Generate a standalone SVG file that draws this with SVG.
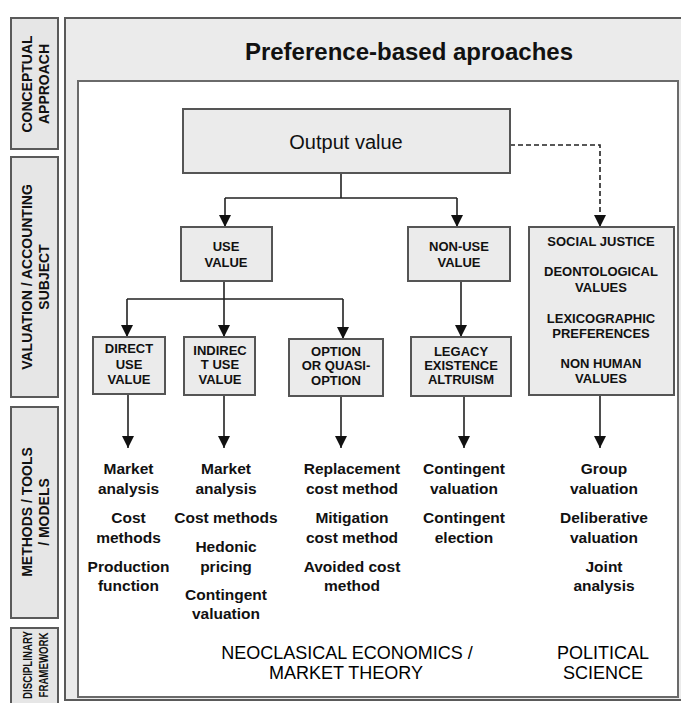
<svg xmlns="http://www.w3.org/2000/svg" width="681" height="703" viewBox="0 0 681 703">
<style>
.sb{fill:#e6e6e6;stroke:#5a5a5a;stroke-width:2}
.frame{fill:#ebebeb;stroke:#5a5a5a;stroke-width:2}
.inner{fill:#ffffff;stroke:#6a6a6a;stroke-width:2}
.box{fill:#ebebeb;stroke:#555;stroke-width:2}
text{font-family:'Liberation Sans',Arial,sans-serif;fill:#111;text-anchor:middle}
.side{font-size:14px;font-weight:bold}
.title{font-size:24px;font-weight:bold}
.ov{font-size:20px}
.lbl{font-size:13px;font-weight:bold}
.m{font-size:15.5px;font-weight:bold}
.fw{font-size:18px;fill:#000}
.conn{stroke:#222;stroke-width:1.6;fill:none}
.dash{stroke-dasharray:5 3}
</style>
<defs>
<marker id="ah" markerUnits="userSpaceOnUse" markerWidth="12" markerHeight="12" refX="12" refY="6" orient="auto">
<path d="M0,0 L12,6 L0,12 z" fill="#111"/>
</marker>
</defs>
<rect width="681" height="703" fill="#fff"/>

<g id="side-conceptual">
<rect class="sb" x="11" y="18" width="47" height="131"/>
<text class="side" transform="translate(32,84) rotate(-90)">CONCEPTUAL</text>
<text class="side" transform="translate(49,84) rotate(-90)">APPROACH</text>
</g>
<g id="side-valuation">
<rect class="sb" x="11" y="157" width="47" height="240"/>
<text class="side" transform="translate(32,277) rotate(-90)">VALUATION / ACCOUNTING</text>
<text class="side" transform="translate(49,277) rotate(-90)">SUBJECT</text>
</g>
<g id="side-methods">
<rect class="sb" x="11" y="407" width="47" height="211"/>
<text class="side" transform="translate(32,512) rotate(-90)">METHODS / TOOLS</text>
<text class="side" transform="translate(49,512) rotate(-90)">/ MODELS</text>
</g>
<g id="side-disciplinary">
<rect class="sb" x="11" y="628" width="47" height="85"/>
<text class="side" transform="translate(32,665) rotate(-90)" textLength="68" lengthAdjust="spacingAndGlyphs" style="font-size:13px">DISCIPLINARY</text>
<text class="side" transform="translate(48,665) rotate(-90)" textLength="65" lengthAdjust="spacingAndGlyphs" style="font-size:13px">FRAMEWORK</text>
</g>

<g id="frame">
<rect class="frame" x="65" y="18" width="630" height="682"/>
<rect class="inner" x="78" y="81" width="600" height="616"/>
<text class="title" x="409" y="60">Preference-based aproaches</text>
</g>

<g id="connectors">
<path class="conn" d="M341,173 V198 M225,198 H457"/>
<path class="conn" d="M225,198 V227" marker-end="url(#ah)"/>
<path class="conn" d="M457,198 V227" marker-end="url(#ah)"/>
<path class="conn dash" d="M510,145 H600 V227" marker-end="url(#ah)"/>
<path class="conn" d="M224,281 V299 M127,299 H343"/>
<path class="conn" d="M127,299 V337" marker-end="url(#ah)"/>
<path class="conn" d="M224,299 V337" marker-end="url(#ah)"/>
<path class="conn" d="M343,299 V339" marker-end="url(#ah)"/>
<path class="conn" d="M461,281 V337" marker-end="url(#ah)"/>
<path class="conn" d="M128,394 V448" marker-end="url(#ah)"/>
<path class="conn" d="M224,395 V448" marker-end="url(#ah)"/>
<path class="conn" d="M341,396 V448" marker-end="url(#ah)"/>
<path class="conn" d="M464,396 V448" marker-end="url(#ah)"/>
<path class="conn" d="M600,395 V448" marker-end="url(#ah)"/>
</g>

<g id="output-value">
<rect class="box" x="183" y="109" width="327" height="64"/>
<text class="ov" x="346" y="149">Output value</text>
</g>
<g id="use-value">
<rect class="box" x="181" y="227" width="91" height="54"/>
<text class="lbl" x="226" y="250.5">USE</text>
<text class="lbl" x="226" y="266.5">VALUE</text>
</g>
<g id="non-use-value">
<rect class="box" x="408" y="227" width="102" height="54"/>
<text class="lbl" x="459" y="250.5">NON-USE</text>
<text class="lbl" x="459" y="266.5">VALUE</text>
</g>
<g id="social-justice">
<rect class="box" x="529" y="227" width="145" height="168"/>
<text class="lbl" x="601" y="245.5">SOCIAL JUSTICE</text>
<text class="lbl" x="601" y="275.5">DEONTOLOGICAL</text>
<text class="lbl" x="601" y="291.5">VALUES</text>
<text class="lbl" x="601" y="322.5">LEXICOGRAPHIC</text>
<text class="lbl" x="601" y="337.5">PREFERENCES</text>
<text class="lbl" x="601" y="367.5">NON HUMAN</text>
<text class="lbl" x="601" y="382.5">VALUES</text>
</g>
<g id="direct-use-value">
<rect class="box" x="93" y="337" width="72" height="57"/>
<text class="lbl" x="129" y="352.5">DIRECT</text>
<text class="lbl" x="129" y="368.5">USE</text>
<text class="lbl" x="129" y="383.5">VALUE</text>
</g>
<g id="indirect-use-value">
<rect class="box" x="184" y="337" width="71" height="58"/>
<text class="lbl" x="220" y="354.5">INDIREC</text>
<text class="lbl" x="220" y="368.5">T USE</text>
<text class="lbl" x="220" y="383.5">VALUE</text>
</g>
<g id="option-value">
<rect class="box" x="289" y="339" width="94" height="57"/>
<text class="lbl" x="336" y="355.5">OPTION</text>
<text class="lbl" x="336" y="369.5">OR QUASI-</text>
<text class="lbl" x="336" y="384.5">OPTION</text>
</g>
<g id="legacy">
<rect class="box" x="411" y="337" width="100" height="59"/>
<text class="lbl" x="461" y="355.5">LEGACY</text>
<text class="lbl" x="461" y="369.5">EXISTENCE</text>
<text class="lbl" x="461" y="383.5">ALTRUISM</text>
</g>

<g id="methods-direct">
<text class="m" x="128.5" y="473.5">Market</text>
<text class="m" x="128.5" y="493.5">analysis</text>
<text class="m" x="128.5" y="522.5">Cost</text>
<text class="m" x="128.5" y="542.5">methods</text>
<text class="m" x="128.5" y="571.5">Production</text>
<text class="m" x="128.5" y="590.5">function</text>
</g>
<g id="methods-indirect">
<text class="m" x="226" y="473.5">Market</text>
<text class="m" x="226" y="493.5">analysis</text>
<text class="m" x="226" y="522.5">Cost methods</text>
<text class="m" x="226" y="551.5">Hedonic</text>
<text class="m" x="226" y="571.5">pricing</text>
<text class="m" x="226" y="599.5">Contingent</text>
<text class="m" x="226" y="618.5">valuation</text>
</g>
<g id="methods-option">
<text class="m" x="352" y="473.5">Replacement</text>
<text class="m" x="352" y="493.5">cost method</text>
<text class="m" x="352" y="522.5">Mitigation</text>
<text class="m" x="352" y="542.5">cost method</text>
<text class="m" x="352" y="571.5">Avoided cost</text>
<text class="m" x="352" y="590.5">method</text>
</g>
<g id="methods-legacy">
<text class="m" x="464" y="473.5">Contingent</text>
<text class="m" x="464" y="493.5">valuation</text>
<text class="m" x="464" y="522.5">Contingent</text>
<text class="m" x="464" y="542.5">election</text>
</g>
<g id="methods-social">
<text class="m" x="604" y="473.5">Group</text>
<text class="m" x="604" y="493.5">valuation</text>
<text class="m" x="604" y="522.5">Deliberative</text>
<text class="m" x="604" y="542.5">valuation</text>
<text class="m" x="604" y="571.5">Joint</text>
<text class="m" x="604" y="590.5">analysis</text>
</g>

<g id="framework-neoclassical">
<text class="fw" x="347" y="659">NEOCLASICAL ECONOMICS /</text>
<text class="fw" x="346" y="679">MARKET THEORY</text>
</g>
<g id="framework-political">
<text class="fw" x="603" y="659">POLITICAL</text>
<text class="fw" x="603" y="679">SCIENCE</text>
</g>
</svg>
